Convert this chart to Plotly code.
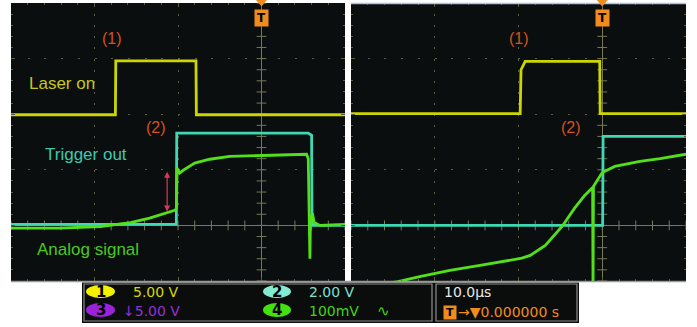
import numpy as np
import plotly.graph_objects as go

W, H = 697, 327

# Time in microseconds (10 us/div, trigger at 0), amplitude in screen divisions
# Left capture
ch1_left_t = [-30, -17.5, -17.45, -7.85, -7.8, 10]
ch1_left_v = [1.99, 1.99, 2.96, 2.96, 1.99, 1.99]
ch2_left_t = [-30, -10.2, -10.15, 5.6, 6.0, 6.05, 10]
ch2_left_v = [0.02, 0.02, 1.66, 1.66, 1.62, 0.0, 0.0]
ch4_left_t = [-30, -24.1, -19.3, -15.7, -13.4, -11.6, -10.4, -10.2, -10.1, -9.8, -9.4,
              -8.0, -6.2, -3.8, -0.2, 3.4, 5.4, 5.6, 5.75, 5.8, 5.85, 6.0, 6.1, 6.3, 7.0, 10]
ch4_left_v = [-0.05, -0.05, -0.02, 0.05, 0.13, 0.22, 0.27, 0.3, 1.03, 0.94, 0.99,
              1.12, 1.19, 1.24, 1.26, 1.28, 1.28, 1.2, 0.0, -0.6, 0.0, 0.1, 0.22, 0.05, 0.0, 0.02]

# Right capture
ch1_right_t = [-30, -9.8, -9.7, -9.2, -0.3, -0.25, 10]
ch1_right_v = [2.01, 2.01, 2.8, 2.95, 2.95, 2.01, 2.01]
ch2_right_t = [-30, 0.05, 0.1, 10]
ch2_right_v = [0.0, 0.0, 1.6, 1.6]
ch4_right_t = [-30, -24.4, -21.8, -18.2, -14.6, -11.0, -9.6, -8.6, -6.8, -4.8, -3.3, -2.1,
               -1.2, -1.15, -1.1, -1.05, -0.6, 0.0, 1.5, 4.5, 6.9, 10]
ch4_right_v = [-1.17, -1.01, -0.92, -0.81, -0.72, -0.63, -0.59, -0.54, -0.36, -0.02, 0.31, 0.54,
               0.68, 0.68, -1.2, 0.7, 0.81, 0.95, 1.06, 1.15, 1.2, 1.28]

YEL, CYA, GRN = "#ccd600", "#3fd8b2", "#52e01c"
LBL = "#d2521e"
ORG = "#f08c1e"
BG = "#0b0e0e"
GRIDC = "#5c5c40"

fig = go.Figure()

for xa, ya, data in [("x", "y", [(ch1_left_t, ch1_left_v, YEL), (ch2_left_t, ch2_left_v, CYA), (ch4_left_t, ch4_left_v, GRN)]),
                     ("x2", "y2", [(ch1_right_t, ch1_right_v, YEL), (ch2_right_t, ch2_right_v, CYA), (ch4_right_t, ch4_right_v, GRN)])]:
    # minor ticks on the centre axes
    yt = np.arange(-1, 4.01, 0.2)
    xt = np.arange(-30, 10.01, 2)
    fig.add_trace(go.Scatter(x=[0] * len(yt), y=yt, mode="markers", xaxis=xa, yaxis=ya,
                             marker=dict(symbol="line-ew", size=7, line=dict(color="#77775a", width=1)),
                             hoverinfo="skip", showlegend=False))
    fig.add_trace(go.Scatter(x=xt, y=[0] * len(xt), mode="markers", xaxis=xa, yaxis=ya,
                             marker=dict(symbol="line-ns", size=7, line=dict(color="#77775a", width=1)),
                             hoverinfo="skip", showlegend=False))
    for t, v, c in data:
        fig.add_trace(go.Scatter(x=t, y=v, mode="lines", xaxis=xa, yaxis=ya,
                                 line=dict(color=c, width=2.8), showlegend=False, hoverinfo="skip"))

axis_common = dict(showticklabels=False, showgrid=True, gridcolor=GRIDC, gridwidth=1,
                   zeroline=True, zerolinecolor="#77775a", zerolinewidth=1,
                   ticks="inside", ticklen=4, tickcolor=GRIDC, mirror="ticks", showline=False,
                   fixedrange=True)
xax = dict(axis_common, range=[-30, 10], dtick=10, tick0=0, griddash="2px,9.1px",
           minor=dict(ticks="inside", ticklen=2, dtick=2, tickcolor=GRIDC))
yax = dict(axis_common, range=[-1, 4], dtick=1, tick0=0, griddash="2px,14.7px",
           minor=dict(ticks="inside", ticklen=2, dtick=0.2, tickcolor=GRIDC))

ydom = [46 / H, 324 / H]
fig.update_layout(
    width=W, height=H, margin=dict(l=0, r=0, t=0, b=0),
    paper_bgcolor="white", plot_bgcolor=BG,
    xaxis=dict(xax, domain=[11 / W, 345 / W], anchor="y"),
    yaxis=dict(yax, domain=ydom, anchor="x"),
    xaxis2=dict(xax, domain=[351 / W, 686 / W], anchor="y2"),
    yaxis2=dict(yax, domain=ydom, anchor="x2"),
    font=dict(family="Liberation Sans"),
)

def px(x):
    return x / W

def py(y):
    return (H - y) / H

shapes = [
    dict(type="line", xref="paper", yref="paper", x0=px(11), x1=px(686), y0=py(281.5), y1=py(281.5),
         line=dict(color="#9a9a9a", width=1.5)),
    dict(type="line", xref="paper", yref="paper", x0=px(351), x1=px(686), y0=py(3.5), y1=py(3.5),
         line=dict(color="#a8c4e8", width=1.5)),
    dict(type="rect", xref="paper", yref="paper", x0=px(82), x1=px(579), y0=py(323), y1=py(282.5),
         fillcolor="#0b0d0d", line=dict(width=0), layer="below"),
    dict(type="rect", xref="paper", yref="paper", x0=px(84), x1=px(432), y0=py(321), y1=py(284),
         line=dict(color="#8c8c8c", width=1.2)),
    dict(type="rect", xref="paper", yref="paper", x0=px(436), x1=px(577), y0=py(321), y1=py(284),
         line=dict(color="#8c8c8c", width=1.2)),
]
ovals = [(86, 115, 285, 298, "#f2f200", "1"), (263, 291, 285, 298, "#84ead2", "2"),
         (86, 115, 303, 317, "#9a22d8", "3"), (263, 291, 303, 317, "#44e010", "4")]
ann = []
for x0, x1, y0, y1, c, n in ovals:
    shapes.append(dict(type="circle", xref="paper", yref="paper", x0=px(x0), x1=px(x1),
                       y0=py(y1), y1=py(y0), fillcolor=c, line=dict(width=0), layer="below"))
    ann.append(dict(xref="paper", yref="paper", x=px((x0 + x1) / 2), y=py((y0 + y1) / 2),
                    xanchor="center", yanchor="middle", text="<b>%s</b>" % n, showarrow=False,
                    font=dict(color="black", size=15, family="DejaVu Sans")))

def info(x, y, text, color, size=14):
    ann.append(dict(xref="paper", yref="paper", x=px(x), y=py(y), text=text, showarrow=False,
                    xanchor="left", yanchor="middle", font=dict(color=color, size=size, family="DejaVu Sans")))

info(131, 292, "5.00 V", "#d8d800")
info(121, 311, "↓5.00 V", "#9430d8")
info(307, 292, "2.00 V", "#7fe0cc")
info(307, 311, "100mV", "#44d414")
info(375, 311, "∿", "#44d414", 15)
info(442, 292, "10.0µs", "#e6e6e6")
info(456, 312, "→▼0.000000 s", ORG)
ann.append(dict(xref="paper", yref="paper", x=px(449.5), y=py(312), text="<b>T</b>", showarrow=False,
                xanchor="center", yanchor="middle",
                bgcolor=ORG, font=dict(color="black", size=11, family="DejaVu Sans"),
                borderpad=0, width=12, height=13))

# trace labels
def lab(xr, yr, x, y, text, color, size=17, anchor="left"):
    ann.append(dict(xref=xr, yref=yr, x=x, y=y, text=text, showarrow=False, xanchor=anchor,
                    yanchor="middle", font=dict(color=color, size=size)))

lab("x", "y", -28.1, 2.55, "Laser on", "#c8c81a")
lab("x", "y", -26.2, 1.28, "Trigger out", "#3fc8b0")
lab("x", "y", -27.1, -0.43, "Analog signal", "#4cc822")
lab("x", "y", -17.9, 3.36, "(1)", LBL, 16, "center")
lab("x", "y", -12.6, 1.76, "(2)", LBL, 16, "center")
lab("x2", "y2", -10.0, 3.36, "(1)", LBL, 16, "center")
lab("x2", "y2", -3.7, 1.76, "(2)", LBL, 16, "center")

# double arrow
ann.append(dict(xref="x", yref="y", axref="x", ayref="y", x=-11.3, y=0.25, ax=-11.3, ay=0.99,
                text="", showarrow=True, arrowhead=2, startarrowhead=2, arrowside="end+start",
                arrowsize=1, arrowwidth=1.2, arrowcolor="#d8385a"))

# trigger markers
for xr in ["x", "x2"]:
    ann.append(dict(xref=xr, yref="paper", x=0, y=py(18), text="<b>T</b>", showarrow=False,
                    xanchor="center", yanchor="middle",
                    bgcolor=ORG, font=dict(color="black", size=12, family="DejaVu Sans"),
                    borderpad=0, width=13, height=16))
    shapes.append(dict(type="path", xref=xr, yref="paper",
                       path="M -0.65,%f L 0.65,%f L 0,%f Z" % (py(0), py(0), py(6.5)),
                       fillcolor=ORG, line=dict(width=0)))

fig.update_layout(shapes=shapes, annotations=ann)
fig.write_html("out.html", config={"displayModeBar": False},
               post_script="document.body.style.margin='0';")
